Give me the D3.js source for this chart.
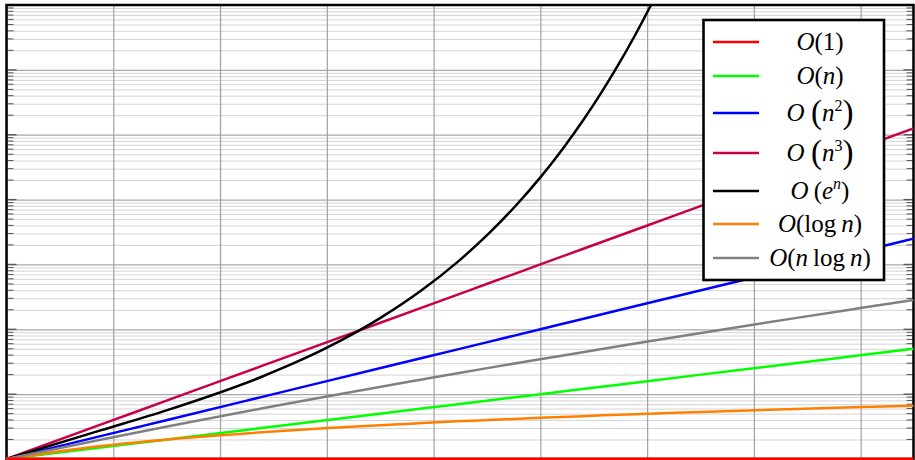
<!DOCTYPE html>
<html>
<head>
<meta charset="utf-8">
<script src="https://cdn.jsdelivr.net/npm/d3@7"></script>
<style>
  html, body { margin: 0; padding: 0; background: #fff; }
  svg { display: block; }
</style>
</head>
<body>
<svg id="chart" width="915" height="460"></svg>
<script>
  // sample points (log-log axes, n from 1 to 50)
  const nSamples = [1, 1.5, 2, 3, 4, 5, 6, 7, 8, 10, 12, 14, 16, 20, 30, 40, 50];
  const constVals = [1, 1, 1, 1, 1, 1, 1, 1, 1, 1, 1, 1, 1, 1, 1, 1, 1];
  const linVals = [1, 1.5, 2, 3, 4, 5, 6, 7, 8, 10, 12, 14, 16, 20, 30, 40, 50];
  const quadVals = [1, 2.25, 4, 9, 16, 25, 36, 49, 64, 100, 144, 196, 256, 400, 900, 1600, 2500];
  const cubeVals = [1, 3.38, 8, 27, 64, 125, 216, 343, 512, 1000, 1728, 2744, 4096, 8000, 27000, 64000, 125000];
  const logVals = [1, 1.58, 2, 2.58, 3, 3.32, 3.58, 3.81, 4, 4.32, 4.58, 4.81, 5, 5.32, 5.91, 6.32, 6.64];
  const nlogVals = [1, 1.98, 3.17, 6, 9.29, 12.9, 16.8, 21, 25.4, 34.6, 44.4, 54.7, 65.4, 87.8, 148.6, 214, 283.6];

  const nExp = [1, 1.5, 2, 3, 4, 5, 6, 7, 8, 9, 10, 11, 12, 13, 14, 15, 16, 16.5];
  const expVals = [1, 2.76, 5.67, 18.4, 52.9, 147, 402, 1095, 2980, 8100, 22000, 59900, 162800, 442400, 1.2e6, 3.27e6, 8.9e6, 1.46e7];

  const xTickValues = [1, 1.585, 2.512, 3.981, 6.31, 10, 15.85, 25.12, 39.81];
  const yMajorValues = [1, 10, 100, 1e3, 1e4, 1e5, 1e6, 1e7];

  (function () {
    "use strict";

    const series = [
      { key: "c", color: "#ff0000", xs: nSamples, ys: constVals },
      { key: "n", color: "#00ff00", xs: nSamples, ys: linVals },
      { key: "n2", color: "#0000ff", xs: nSamples, ys: quadVals },
      { key: "n3", color: "#c8004b", xs: nSamples, ys: cubeVals },
      { key: "en", color: "#000000", xs: nExp, ys: expVals },
      { key: "log", color: "#ff8000", xs: nSamples, ys: logVals },
      { key: "nlog", color: "#808080", xs: nSamples, ys: nlogVals },
    ];

    const pL = 6.5, pR = 913.5, pT = 5, pB = 459;
    const x = d3.scaleLog().domain([1, 50]).range([pL, pR]);
    const y = d3.scaleLog().domain([1, 1e7]).range([pB, pT]);

    const yMinorValues = [];
    for (let k = 0; k < 7; k++) {
      for (let m = 2; m <= 9; m++) yMinorValues.push(m * Math.pow(10, k));
    }

    const svg = d3.select("#chart");

    // grid
    svg.append("g")
      .attr("transform", `translate(${pL},0)`)
      .call(d3.axisLeft(y).tickValues(yMinorValues).tickSize(-(pR - pL)).tickFormat(""))
      .call((g) => g.select(".domain").remove())
      .call((g) => g.selectAll("line").attr("stroke", "#d4d4d4").attr("stroke-width", 1));
    svg.append("g")
      .attr("transform", `translate(${pL},0)`)
      .call(d3.axisLeft(y).tickValues(yMajorValues).tickSize(-(pR - pL)).tickFormat(""))
      .call((g) => g.select(".domain").remove())
      .call((g) => g.selectAll("line").attr("stroke", "#a8a8a8").attr("stroke-width", 1.2));
    svg.append("g")
      .attr("transform", `translate(0,${pB})`)
      .call(d3.axisBottom(x).tickValues(xTickValues).tickSize(-(pB - pT)).tickFormat(""))
      .call((g) => g.select(".domain").remove())
      .call((g) => g.selectAll("line").attr("stroke", "#a0a0a0").attr("stroke-width", 1.2));

    // inward tick marks on left and right edges
    const ticks = svg.append("g").attr("stroke", "#555").attr("stroke-width", 1);
    yMinorValues.forEach((v) => {
      ticks.append("line").attr("x1", pL).attr("x2", pL + 7).attr("y1", y(v)).attr("y2", y(v));
      ticks.append("line").attr("x1", pR - 7).attr("x2", pR).attr("y1", y(v)).attr("y2", y(v));
    });
    yMajorValues.forEach((v) => {
      ticks.append("line").attr("x1", pL).attr("x2", pL + 10).attr("y1", y(v)).attr("y2", y(v)).attr("stroke-width", 1.3);
      ticks.append("line").attr("x1", pR - 10).attr("x2", pR).attr("y1", y(v)).attr("y2", y(v)).attr("stroke-width", 1.3);
    });

    // frame
    svg.append("rect")
      .attr("x", pL).attr("y", pT)
      .attr("width", pR - pL).attr("height", pB - pT)
      .attr("fill", "none").attr("stroke", "#000").attr("stroke-width", 2.5);

    // curves, drawn over the frame so the constant line covers the bottom edge
    svg.append("clipPath").attr("id", "plot-clip")
      .append("rect").attr("x", pL - 2).attr("y", pT + 1).attr("width", pR - pL + 4).attr("height", pB - pT + 3);

    const line = d3.line()
      .x((d) => x(d[0]))
      .y((d) => y(d[1]))
      .curve(d3.curveMonotoneX);

    const curves = svg.append("g").attr("clip-path", "url(#plot-clip)");
    const order = ["n", "n2", "n3", "en", "log", "nlog", "c"];
    order.forEach((key) => {
      const s = series.find((d) => d.key === key);
      const pts = s.xs.map((v, i) => [v, s.ys[i]]);
      curves.append("path")
        .attr("d", line(pts))
        .attr("fill", "none")
        .attr("stroke", s.color)
        .attr("stroke-width", key === "c" ? 3 : 2.5)
        .attr("stroke-linejoin", "round");
    });

    // legend
    const legendRows = [42, 76, 113, 153, 191, 224, 258];
    const lg = svg.append("g");
    lg.append("rect")
      .attr("x", 703.5).attr("y", 20).attr("width", 180.5).attr("height", 260)
      .attr("fill", "#fff").attr("stroke", "#000").attr("stroke-width", 2.6);

    // [text, style, font-size, dy]
    const labels = [
      [["O", "i"], ["(1)", "r"]],
      [["O", "i"], ["(", "r"], ["n", "i"], [")", "r"]],
      [["O", "i"], ["\u2009(", "r", 33, 2], ["n", "i", null, -2], ["2", "r", 16, -10], [")", "r", 33, 12]],
      [["O", "i"], ["\u2009(", "r", 33, 2], ["n", "i", null, -2], ["3", "r", 16, -10], [")", "r", 33, 12]],
      [["O", "i"], ["\u2009(", "r"], ["e", "i"], ["n", "i", 16, -10], [")", "r", null, 10]],
      [["O", "i"], ["(log\u2009", "r"], ["n", "i"], [")", "r"]],
      [["O", "i"], ["(", "r"], ["n", "i"], ["\u2009log\u2009", "r"], ["n", "i"], [")", "r"]],
    ];

    series.forEach((s, i) => {
      const cy = legendRows[i];
      lg.append("line")
        .attr("x1", 713).attr("x2", 759).attr("y1", cy).attr("y2", cy)
        .attr("stroke", s.color).attr("stroke-width", 2.5);
      const t = lg.append("text")
        .attr("x", 820).attr("y", cy + 8)
        .attr("text-anchor", "middle")
        .attr("font-family", "'Liberation Serif', serif")
        .attr("font-size", 25)
        .attr("fill", "#000");
      labels[i].forEach(([txt, kind, size, dy]) => {
        const sp = t.append("tspan").text(txt);
        if (kind === "i") sp.attr("font-style", "italic");
        if (size) sp.attr("font-size", size);
        if (dy) sp.attr("dy", dy);
      });
    });
  })();
</script>
</body>
</html>
